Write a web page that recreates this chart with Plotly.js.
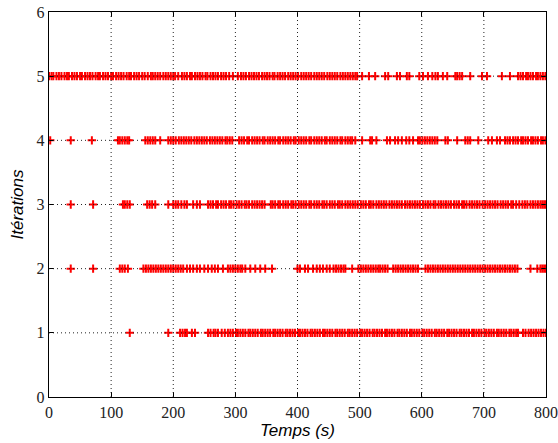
<!DOCTYPE html>
<html>
<head>
<meta charset="utf-8">
<script src="https://cdn.plot.ly/plotly-3.0.1.min.js"></script>
<style>html,body{margin:0;padding:0;background:#fff;}#chart{width:558px;height:443px;}</style>
</head>
<body>
<div id="chart"></div>
<script>
// Times (s) at which each iteration count was observed
const iter5 = [0,4,7,12,16,20,25,29,32,37,41,45,50,53,58,62,66,70,75,79,82,87,91,95,100,103,108,112,116,120,125,129,132,137,141,145,150,154,159,
  164,167,171,175,179,184,188,192,196,200,203,208,
  214,218,222,227,230,235,239,243,247,252,255,260,264,268,272,277,281,285,290,296,304,
  309,313,317,322,326,330,334,338,343,347,351,355,360,363,368,372,376,380,385,389,393,397,401,406,410,414,418,422,427,431,435,439,443,448,452,456,460,464,469,473,477,481,485,489,493,496,
  504,515,525,541,546,560,565,576,580,596,602,610,617,622,626,634,641,654,657,661,665,678,697,705,729,742,
  755,759,763,768,771,775,779,784,787,791,795,799];
const iter4 = [2,35,69,111,114,118,122,126,129,155,159,163,167,171,179,
  192,196,200,204,209,213,217,221,225,229,234,238,242,246,250,254,259,263,267,271,275,279,284,287,291,295,
  306,310,314,319,322,327,331,335,339,344,347,352,356,360,364,369,372,377,381,385,389,394,397,402,406,410,414,419,422,427,431,435,439,444,447,452,456,460,464,469,472,477,481,485,488,
  493,504,517,520,527,544,549,557,562,568,575,580,586,594,597,601,605,609,613,617,621,625,638,642,657,670,674,678,691,707,713,721,726,734,738,742,
  747,751,755,760,763,767,771,776,779,783,787,792,795,799];
const iter3 = [35,71,119,122,126,130,158,162,166,171,192,200,204,208,213,218,222,232,238,243,
  256,260,264,269,272,277,281,285,290,293,297,302,306,310,315,318,322,327,331,335,339,343,347,357,360,364,369,372,377,381,385,390,393,397,402,406,410,414,419,422,427,431,435,440,443,447,452,456,460,465,468,472,477,481,485,489,493,497,502,506,510,515,518,522,527,531,535,539,543,548,552,556,560,564,568,573,577,581,585,589,593,597,602,606,610,614,619,622,627,631,635,639,643,647,652,656,660,665,668,672,677,681,685,689,693,698,702,706,710,714,718,722,727,731,735,739,744,747,752,757,
  762,766,770,775,779,783,787,791,794,797,800];
const iter2 = [35,71,114,118,122,127,
  152,156,160,164,168,172,176,180,184,188,192,196,200,204,208,212,216,222,
  227,232,238,243,250,256,262,267,272,280,
  288,292,296,300,304,308,311,316,324,332,340,348,359,
  400,404,412,417,425,431,436,441,447,452,458,462,466,470,474,477,488,
  498,502,506,510,514,518,522,526,530,533,537,541,545,554,558,562,566,570,574,578,582,586,590,594,606,610,614,618,622,626,630,634,638,642,646,650,654,658,662,666,670,674,678,682,686,690,694,698,702,706,710,714,718,722,726,730,734,738,742,746,750,754,
  775,786,791,794,797,800];
const iter1 = [130,192,211,215,219,222,230,235,
  256,260,265,268,272,278,283,288,292,296,301,304,308,312,316,321,324,328,332,336,341,344,348,352,356,361,364,368,372,376,381,384,388,392,396,401,404,408,412,416,421,424,428,432,436,441,444,448,452,456,461,464,468,472,476,481,484,488,492,496,501,504,508,512,516,521,524,528,532,536,541,544,548,552,556,561,564,568,572,576,581,584,588,592,596,601,604,608,612,616,621,624,628,632,636,641,644,648,652,656,661,664,668,672,676,681,684,688,692,696,701,704,708,712,716,721,724,728,732,736,741,744,748,752,755,
  763,767,772,776,780,784,788,792,796,800];

const levels = [1, 2, 3, 4, 5];
const seriesX = [iter1, iter2, iter3, iter4, iter5];
const xTicks = [0, 100, 200, 300, 400, 500, 600, 700, 800];
const yTicks = [0, 1, 2, 3, 4, 5, 6];
const xTitle = 'Temps (s)';
const yTitle = 'Itérations';

const traces = seriesX.map((xs, i) => ({
  type: 'scatter', mode: 'markers',
  x: xs, y: xs.map(() => levels[i]),
  marker: {symbol: 'cross-thin', size: 6, color: '#ff0000', line: {color: '#ff0000', width: 2}},
  hoverinfo: 'skip', showlegend: false
}));

const shapes = [];
xTicks.slice(1, -1).forEach(v => shapes.push({type: 'line', layer: 'above', xref: 'x', yref: 'paper', x0: v, x1: v, y0: 0, y1: 1,
  line: {color: '#222', width: 1, dash: '1px,3px'}}));
yTicks.slice(1, -1).forEach(v => shapes.push({type: 'line', layer: 'above', xref: 'paper', yref: 'y', x0: 0, x1: 1, y0: v, y1: v,
  line: {color: '#222', width: 1, dash: '1px,3px'}}));

const tickFont = {family: 'Liberation Serif, serif', size: 16, color: '#222'};
const titleFont = {family: 'Liberation Sans, Arial, sans-serif', size: 17, color: '#000', style: 'italic'};

const layout = {
  width: 558, height: 443,
  margin: {l: 49, r: 12, t: 12, b: 46},
  paper_bgcolor: '#fff', plot_bgcolor: '#fff',
  showlegend: false,
  shapes: shapes,
  xaxis: {
    range: [0, 800], tickvals: xTicks, ticktext: xTicks.map(String),
    ticks: 'inside', ticklen: 5, tickwidth: 1, tickcolor: '#000',
    showline: true, linecolor: '#000', linewidth: 1.3, mirror: 'ticks',
    showgrid: false, zeroline: false, tickfont: tickFont,
    title: {text: xTitle, font: titleFont, standoff: 4}
  },
  yaxis: {
    range: [0, 6], tickvals: yTicks, ticktext: yTicks.map(String),
    ticks: 'inside', ticklen: 5, tickwidth: 1, tickcolor: '#000',
    showline: true, linecolor: '#000', linewidth: 1.3, mirror: 'ticks',
    showgrid: false, zeroline: false, tickfont: tickFont,
    title: {text: yTitle, font: titleFont, standoff: 8}
  }
};

Plotly.newPlot('chart', traces, layout, {displayModeBar: false, staticPlot: true});
</script>
</body>
</html>
